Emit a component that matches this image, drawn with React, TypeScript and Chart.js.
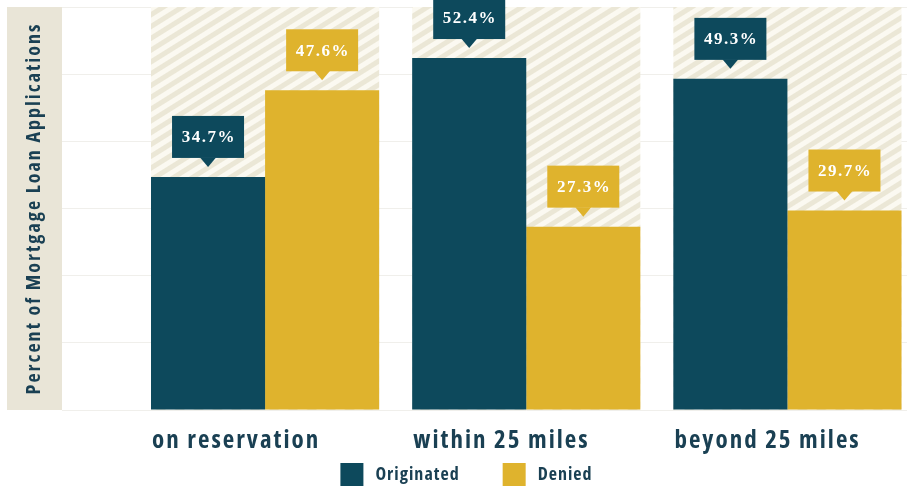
import React, { useEffect, useRef } from 'react';
import { Chart, registerables } from 'chart.js';

Chart.register(...registerables);

// ---- data ----
const categories = ['on reservation', 'within 25 miles', 'beyond 25 miles'];
const originated = [34.7, 52.4, 49.3];
const denied = [47.6, 27.3, 29.7];
const seriesNames = ['Originated', 'Denied'];
const yMin = 0;
const yMax = 60;
const yStep = 10;
const yTitle = 'Percent of Mortgage Loan Applications';

// ---- style ----
const TEAL = '#0d495c';
const GOLD = '#dfb32d';
const TEXT = '#1a4053';
const BAND = '#e9e5d7';
const GRID = '#f0efeb';
const SANS = "'Open Sans', sans-serif";
const SERIF = "'Liberation Serif', serif";
const COND = 'bold semi-condensed';
const TITLE_SIZE = 20;
const TITLE_PAD = 15.5;
const CANVAS_W = 918;
const CANVAS_H = 488;

function makeHatch(ctx: CanvasRenderingContext2D): CanvasPattern | string {
  const t = document.createElement('canvas');
  t.width = 10;
  t.height = 10;
  const c = t.getContext('2d')!;
  c.fillStyle = '#fbf9f1';
  c.fillRect(0, 0, 10, 10);
  c.fillStyle = '#ebe7d6';
  c.fillRect(0, 0, 10, 5);
  const p = ctx.createPattern(t, 'repeat');
  if (!p) return '#f4f1e6';
  p.setTransform(new DOMMatrix().rotate(-32));
  return p;
}

const spacingPlugin = {
  id: 'spacing',
  beforeLayout(chart: any) {
    chart.ctx.letterSpacing = '2px';
  },
  beforeDraw(chart: any) {
    const ctx = chart.ctx as CanvasRenderingContext2D;
    (ctx as any).letterSpacing = '2px';
    const ys = chart.scales.y;
    const ca = chart.chartArea;
    const bandW = TITLE_SIZE * 1.2 + TITLE_PAD * 2;
    ctx.save();
    ctx.fillStyle = BAND;
    ctx.fillRect(ys.left, ca.top, bandW, ca.bottom - ca.top);
    ctx.restore();
  },
};

const hatchPlugin = {
  id: 'hatch',
  beforeDatasetsDraw(chart: any) {
    const ctx = chart.ctx as CanvasRenderingContext2D;
    const ca = chart.chartArea;
    const m0 = chart.getDatasetMeta(0).data;
    const m1 = chart.getDatasetMeta(1).data;
    const pat = makeHatch(ctx);
    ctx.save();
    ctx.fillStyle = pat as any;
    for (let i = 0; i < m0.length; i++) {
      const a = m0[i].getProps(['x', 'width'], true);
      const b = m1[i].getProps(['x', 'width'], true);
      const l = a.x - a.width / 2;
      const r = b.x + b.width / 2;
      ctx.fillRect(l, ca.top, r - l, ca.bottom - ca.top);
    }
    ctx.restore();
  },
};

const calloutPlugin = {
  id: 'callout',
  afterDatasetsDraw(chart: any) {
    const ctx = chart.ctx as CanvasRenderingContext2D;
    const bw = 72;
    const bh = 42;
    chart.data.datasets.forEach((ds: any, di: number) => {
      const meta = chart.getDatasetMeta(di);
      meta.data.forEach((el: any, i: number) => {
        const { x, y } = el.getProps(['x', 'y'], true);
        const bottom = y - 19;
        const tip = y - 10;
        ctx.save();
        ctx.fillStyle = ds.backgroundColor;
        ctx.fillRect(x - bw / 2, bottom - bh, bw, bh);
        ctx.beginPath();
        ctx.moveTo(x - 8, bottom - 0.5);
        ctx.lineTo(x + 8, bottom - 0.5);
        ctx.lineTo(x, tip);
        ctx.closePath();
        ctx.fill();
        ctx.fillStyle = '#ffffff';
        ctx.font = `bold 17px ${SERIF}`;
        (ctx as any).letterSpacing = '1.5px';
        ctx.textAlign = 'center';
        ctx.textBaseline = 'middle';
        ctx.fillText(ds.data[i].toFixed(1) + '%', x + 0.75, bottom - bh / 2 + 1);
        ctx.restore();
      });
    });
    (ctx as any).letterSpacing = '2px';
  },
};

const legendPlugin = {
  id: 'customLegend',
  afterDraw(chart: any) {
    const ctx = chart.ctx as CanvasRenderingContext2D;
    const box = 23;
    const gap = 12;
    const itemGap = 43;
    ctx.save();
    ctx.font = `${COND} 18px ${SANS}`;
    (ctx as any).letterSpacing = '1px';
    const items = chart.data.datasets.map((ds: any) => ({
      text: ds.label,
      color: ds.backgroundColor,
      w: box + gap + ctx.measureText(ds.label).width,
    }));
    const total = items.reduce((s: number, it: any) => s + it.w, 0) + itemGap * (items.length - 1);
    let x = 466.5 - total / 2;
    const top = chart.height - 25;
    items.forEach((it: any) => {
      ctx.fillStyle = it.color;
      ctx.fillRect(x, top, box, box);
      ctx.fillStyle = TEXT;
      ctx.textAlign = 'left';
      ctx.textBaseline = 'middle';
      ctx.fillText(it.text, x + box + gap, top + box / 2);
      x += it.w + itemGap;
    });
    ctx.restore();
  },
};

export default function App() {
  const ref = useRef<HTMLCanvasElement>(null);
  useEffect(() => {
    if (!ref.current) return;
    const chart = new Chart(ref.current, {
      type: 'bar',
      data: {
        labels: categories,
        datasets: [
          { label: seriesNames[0], data: originated, backgroundColor: TEAL, borderWidth: 0 },
          { label: seriesNames[1], data: denied, backgroundColor: GOLD, borderWidth: 0 },
        ],
      },
      options: {
        animation: false,
        responsive: false,
        devicePixelRatio: 1,
        events: [],
        categoryPercentage: 0.8736,
        barPercentage: 1,
        layout: {
          padding: { left: 7, top: 7, right: 0, bottom: 16 },
        },
        plugins: {
          legend: { display: false },
          tooltip: { enabled: false },
          title: { display: false },
        },
        scales: {
          x: {
            grid: { display: false, drawTicks: false },
            border: { display: false },
            afterFit: (scale: any) => {
              scale.paddingLeft = 0;
              scale.paddingRight = 0;
            },
            ticks: {
              z: 1,
              align: 'start',
              labelOffset: -113,
              padding: 16,
              maxRotation: 0,
              autoSkip: false,
              color: TEXT,
              font: { family: SANS, size: 25, weight: COND, lineHeight: 1.2 },
            },
          },
          y: {
            min: yMin,
            max: yMax,
            border: { display: false },
            grid: { color: GRID, lineWidth: 1, drawTicks: true, tickLength: 72.5 },
            ticks: { stepSize: yStep, display: false },
            title: {
              display: true,
              text: yTitle,
              color: TEXT,
              font: { family: SANS, size: TITLE_SIZE, weight: COND, lineHeight: 1.2 },
              padding: { top: TITLE_PAD, bottom: TITLE_PAD },
            },
          },
        },
      } as any,
      plugins: [spacingPlugin, hatchPlugin, calloutPlugin, legendPlugin],
    });
    return () => chart.destroy();
  }, []);
  return (
    <div
      style={{
        position: 'fixed',
        left: 0,
        top: 0,
        width: 907,
        height: 488,
        overflow: 'hidden',
        background: '#ffffff',
      }}
    >
      <canvas ref={ref} width={CANVAS_W} height={CANVAS_H} style={{ display: 'block', width: CANVAS_W, height: CANVAS_H }} />
    </div>
  );
}
